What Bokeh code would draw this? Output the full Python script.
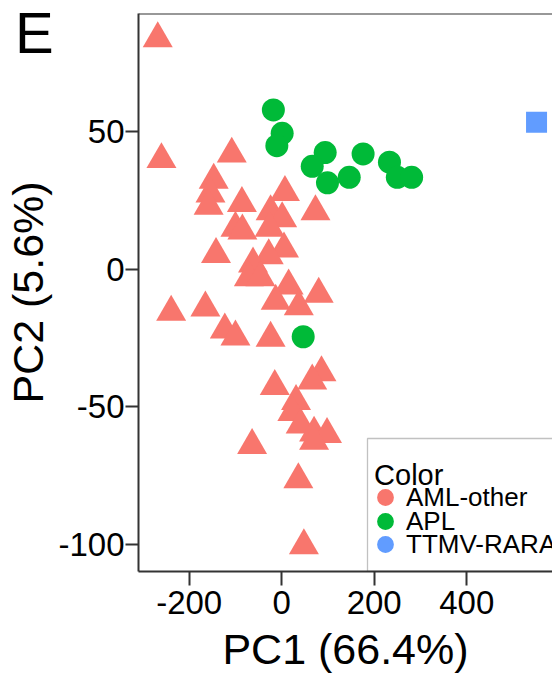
from bokeh.plotting import figure
from bokeh.models import (Range1d, FixedTicker, Label, Legend, Span,
                          LegendItem, BoxAnnotation, CustomJSTickFormatter)
from bokeh.embed import file_html
from bokeh.resources import INLINE

# ---------------- data ----------------
groups = ["AML-other", "APL", "TTMV-RARA"]
colors = ["#F8766D", "#00BA38", "#619CFF"]

aml_pc1 = [-268, -260, -108, -147, -154, -158, -86, 7, 73, -24, 1, -100, -85,
           -26, 5, -142, -28, -62, -71, -46, 15, 80, -13, 37, -239, -165,
           -123, -100, -24, -15, 86, 66, 31, 23, 41, 70, 98, 70, -64, 36, 48]
aml_pc2 = [84, 40, 42, 32.5, 27.5, 23, 24, 28, 21, 21, 18.5, 15, 14,
           15, 7.5, 5.5, 5, 2, -3, -3, -6, -9, -11.5, -13.5, -15.5, -14,
           -22, -24.5, -25, -42.5, -37.5, -40.5, -48, -52, -56.5, -59.5, -60,
           -62.5, -64, -76.5, -100.5]

apl_pc1 = [-18, 1, -10.5, 94, 66, 99, 146, 176, 233, 250, 281, 46.5]
apl_pc2 = [58, 49.5, 45, 42.5, 37.5, 31.5, 33.5, 42, 39, 33.5, 33.5, -24.5]

ttmv_pc1 = [551]
ttmv_pc2 = [53.5]

x_ticks = [-200, 0, 200, 400]
y_ticks = [-100, -50, 0, 50]
x_label = "PC1 (66.4%)"
y_label = "PC2 (5.6%)"
panel_label = "E"
legend_title = "Color"

FONT = "Liberation Sans"
AXIS_COLOR = "#333333"
NAN = float("nan")
X_MIN, X_MAX = -309.6, 585.5
Y_MIN, Y_MAX = -109.9, 93.1

p = figure(width=552, height=675, output_backend="svg", toolbar_location=None,
           x_range=Range1d(X_MIN, X_MAX), y_range=Range1d(Y_MIN, Y_MAX),
           min_border_left=138, min_border_right=0, min_border_top=13,
           min_border_bottom=103, x_axis_label=x_label, y_axis_label=y_label)
p.grid.visible = False
p.outline_line_color = None
p.background_fill_color = "white"
p.border_fill_color = "white"

# panel letter as the figure title, pulled left/down over the border
p.title.text = panel_label
p.title.text_font = FONT
p.title.text_font_size = "58px"
p.title.text_font_style = "normal"
p.title.text_color = "black"
p.title.align = "left"
p.title.offset = -123.6
p.title.standoff = -102
p.title.vertical_align = "bottom"
p.title.text_line_height = 1.0

fmt = CustomJSTickFormatter(code="return tick.toFixed(0);")
xa = p.xaxis[0]
ya = p.yaxis[0]
xa.ticker = FixedTicker(ticks=x_ticks)
ya.ticker = FixedTicker(ticks=y_ticks)
for ax in (xa, ya):
    ax.formatter = fmt
    ax.axis_line_color = AXIS_COLOR
    ax.axis_line_width = 2
    ax.major_tick_line_color = AXIS_COLOR
    ax.major_tick_line_width = 2
    ax.major_tick_in = 0
    ax.minor_tick_line_color = None
    ax.major_label_text_font = FONT
    ax.major_label_text_font_size = "33px"
    ax.major_label_text_color = "black"
    ax.major_label_text_line_height = 1.0
    ax.axis_label_text_font = FONT
    ax.axis_label_text_font_size = "43px"
    ax.axis_label_text_font_style = "normal"
    ax.axis_label_text_color = "black"
    ax.axis_label_text_line_height = 1.0
xa.major_tick_out = 14
xa.major_label_standoff = 5
xa.axis_label_standoff = 8
ya.major_tick_out = 13
ya.major_label_standoff = 1
ya.axis_label_standoff = 3

# top border of the panel
p.add_layout(Span(location=Y_MAX, dimension="width", line_color=AXIS_COLOR,
                  line_width=2))

# ---------------- points ----------------
p.scatter(aml_pc1, aml_pc2, marker="triangle", size=30, fill_color=colors[0],
          line_color=None)
p.scatter(apl_pc1, apl_pc2, marker="circle", size=23, fill_color=colors[1],
          line_color=None)
p.scatter(ttmv_pc1, ttmv_pc2, marker="square", size=21, fill_color=colors[2],
          line_color=None)

# ---------------- legend ----------------
box = BoxAnnotation(left=229, right=600, bottom=0, top=133,
                    left_units="screen", right_units="screen",
                    bottom_units="screen", top_units="screen",
                    fill_alpha=0, line_color=AXIS_COLOR, line_width=1.3)
p.add_layout(box)

legend_y = [53, 29, 6]
for g, c, ly in zip(groups, colors, legend_y):
    r = p.scatter(x=[NAN], y=[NAN], marker="circle", size=17, fill_color=c,
                  line_color=None)
    lg = Legend(items=[LegendItem(label=g, renderers=[r])],
                location=(226, ly), orientation="vertical",
                glyph_width=42, glyph_height=42, spacing=0,
                label_standoff=-18, padding=0, margin=0,
                border_line_color=None, background_fill_alpha=0,
                label_text_font=FONT, label_text_font_size="26px",
                label_text_line_height=0.9,
                label_text_color="black")
    p.add_layout(lg)

p.add_layout(Label(x=235.6, y=96.3, x_units="screen", y_units="screen",
                   text=legend_title, text_font=FONT, text_font_size="29px",
                   text_color="black", text_baseline="alphabetic"))

open("out.html", "w").write(file_html(p, INLINE))
